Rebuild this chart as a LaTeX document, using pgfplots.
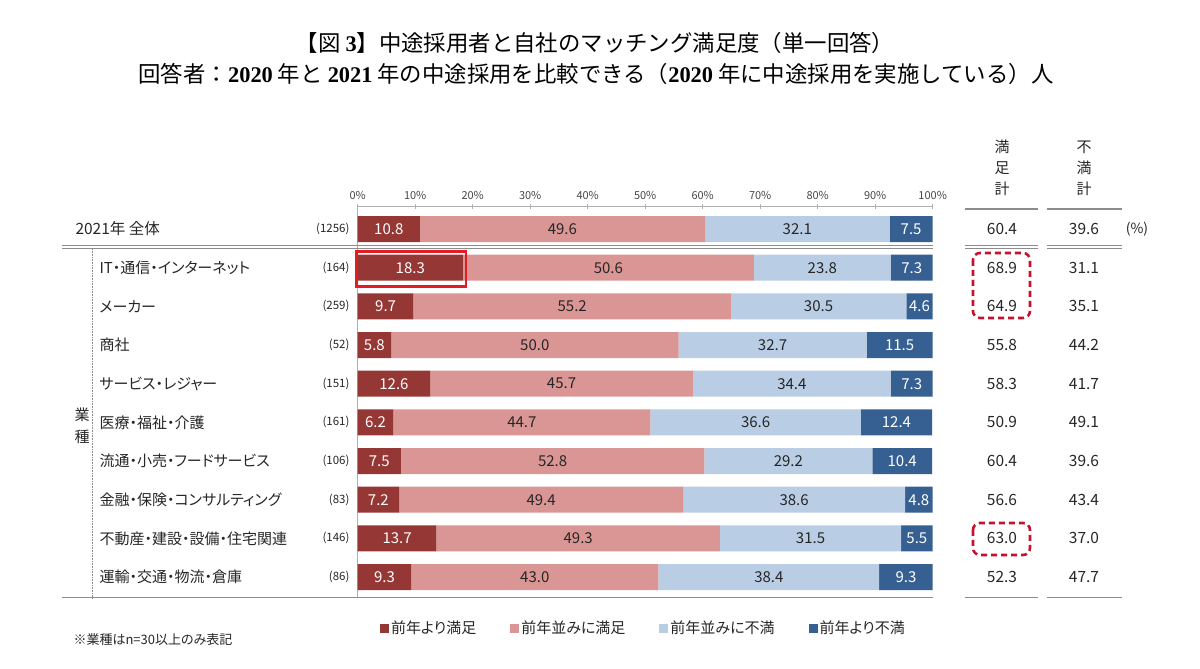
\documentclass[border=0pt]{standalone}
\usepackage{pgfplots}
\pgfplotsset{compat=1.18}
\usepackage{pgfplotstable}
\usepackage{fontspec}
\setmainfont{Noto Sans CJK JP}[RawFeature={+palt}]
\newfontfamily\titlefont{Noto Sans CJK JP}
\newfontfamily\numfont{Liberation Serif}
\definecolor{c1}{HTML}{953735}
\definecolor{c2}{HTML}{D99694}
\definecolor{c3}{HTML}{B9CDE5}
\definecolor{c4}{HTML}{376092}
\definecolor{txt}{HTML}{262626}
\definecolor{ln}{HTML}{8C8C8C}
\definecolor{boxred}{HTML}{E31B23}
\definecolor{dashred}{HTML}{C4122F}
\pgfplotstableread{
row a b c d
0 10.8 49.6 32.1 7.5
1 18.3 50.6 23.8 7.3
2 9.7 55.2 30.5 4.6
3 5.8 50.0 32.7 11.5
4 12.6 45.7 34.4 7.3
5 6.2 44.7 36.6 12.4
6 7.5 52.8 29.2 10.4
7 7.2 49.4 38.6 4.8
8 13.7 49.3 31.5 5.5
9 9.3 43.0 38.4 9.3
}\data
\begin{document}
\begin{tikzpicture}[x=1pt,y=1pt]
\useasboundingbox (0,0) rectangle (1200,669);
% titles
\node[font=\titlefont\fontsize{22.4}{24}\selectfont, text=black] at (595,626)
  {【図 {\numfont\bfseries 3}】中途採用者と自社のマッチング満足度（単一回答）};
\node[font=\titlefont\fontsize{22.4}{24}\selectfont, text=black] at (596,595)
  {回答者：{\numfont\bfseries 2020} 年と {\numfont\bfseries 2021} 年の中途採用を比較できる（{\numfont\bfseries 2020} 年に中途採用を実施している）人};

\begin{axis}[
  at={(357.7pt,462.3pt)}, anchor=north west,
  scale only axis, width=575pt, height=391.3pt,
  xmin=0, xmax=100, ymin=-0.577, ymax=9.543, y dir=reverse,
  xbar stacked, bar width=26pt,
  axis x line*=top, axis y line*=left,
  axis line style={draw=ln!70, line width=0.8pt, -},
  ytick=\empty,
  xtick={0,10,...,100},
  xticklabel={\pgfmathprintnumber{\tick}\%},
  /pgf/number format/assume math mode=true,
  xticklabel style={font=\fontsize{11}{12}\selectfont, text=txt!85, yshift=1pt},
  tick style={draw=ln!70, line width=0.8pt},
  tick align=center, major tick length=5pt,
  clip=false,
  nodes near coords={\pgfmathprintnumber[fixed,fixed zerofill,precision=1]{\rawx}},
  visualization depends on={rawx \as \rawx},
  every node near coord/.append style={anchor=center, font=\fontsize{15}{18}\selectfont, text=txt},
  legend columns=4,
  legend style={at={(0.497,-0.0767)}, anchor=center, draw=none, fill=none,
    font=\fontsize{15}{17}\selectfont, text=txt,
    /tikz/every even column/.append style={column sep=32pt}},
]
\addplot[fill=c1, draw=none, every node near coord/.append style={text=white},
  legend image code/.code={\fill[c1] (0pt,-4.5pt) rectangle (9pt,4.5pt);}] table[x=a,y=row]{\data};
\addlegendentry{前年より満足}
\addplot[fill=c2, draw=none,
  legend image code/.code={\fill[c2] (0pt,-4.5pt) rectangle (9pt,4.5pt);}] table[x=b,y=row]{\data};
\addlegendentry{前年並みに満足}
\addplot[fill=c3, draw=none,
  legend image code/.code={\fill[c3] (0pt,-4.5pt) rectangle (9pt,4.5pt);}] table[x=c,y=row]{\data};
\addlegendentry{前年並みに不満}
\addplot[fill=c4, draw=none, every node near coord/.append style={text=white},
  legend image code/.code={\fill[c4] (0pt,-4.5pt) rectangle (9pt,4.5pt);}] table[x=d,y=row]{\data};
\addlegendentry{前年より不満}
\end{axis}

% separator lines
\draw[ln, line width=1pt] (62,423) -- (932.7,423);
\draw[ln, line width=1pt] (62,420.6) -- (932.7,420.6);
\draw[ln, line width=1pt] (62,71) -- (932.7,71);
\draw[ln, line width=0.6pt, densely dotted] (92,420) -- (92,71);
\foreach \xa/\xb in {965/1038, 1047/1122}{
  \draw[ln, line width=1.2pt] (\xa,460) -- (\xb,460);
  \draw[ln, line width=1pt] (\xa,423) -- (\xb,423);
  \draw[ln, line width=1pt] (\xa,420.6) -- (\xb,420.6);
  \draw[ln, line width=1pt] (\xa,71) -- (\xb,71);
}
% headers right
\node[font=\fontsize{15}{21}\selectfont, text=txt, align=center] at (1002,501) {満\\足\\計};
\node[font=\fontsize{15}{21}\selectfont, text=txt, align=center] at (1084,501) {不\\満\\計};
\node[font=\fontsize{14}{16}\selectfont, text=txt] at (1137,440) {(\%)};
% row labels
\node[anchor=west, font=\fontsize{15.5}{18}\selectfont, text=txt] at (72,440) {2021年 全体};
\node[anchor=east, font=\fontsize{11.5}{14}\selectfont, text=txt] at (353,440) {(1256)};
\foreach \i/\lab/\n in {1/IT・通信・インターネット/164, 2/メーカー/259, 3/商社/52, 4/サービス・レジャー/151, 5/医療・福祉・介護/161, 6/流通・小売・フードサービス/106, 7/金融・保険・コンサルティング/83, 8/不動産・建設・設備・住宅関連/146, 9/運輸・交通・物流・倉庫/86}{
  \node[anchor=west, font=\fontsize{15}{18}\selectfont, text=txt] at (96,{440-38.67*\i}) {\lab};
  \node[anchor=east, font=\fontsize{11.5}{14}\selectfont, text=txt] at (353,{440-38.67*\i}) {(\n)};
}
\foreach \i/\s/\d in {0/60.4/39.6, 1/68.9/31.1, 2/64.9/35.1, 3/55.8/44.2, 4/58.3/41.7, 5/50.9/49.1, 6/60.4/39.6, 7/56.6/43.4, 8/63.0/37.0, 9/52.3/47.7}{
  \node[font=\fontsize{15.5}{18}\selectfont, text=txt] at (1002,{440-38.67*\i}) {\s};
  \node[font=\fontsize{15.5}{18}\selectfont, text=txt] at (1084,{440-38.67*\i}) {\d};
}
\node[font=\fontsize{15}{22}\selectfont, text=txt, align=center] at (82,243) {業\\種};
\node[anchor=west, font=\fontsize{13}{15}\selectfont, text=txt] at (70,29) {※業種はn=30以上のみ表記};
% highlight boxes
\draw[boxred, line width=2.2pt] (356.5,417.5) rectangle (466,382.5);
\draw[dashred, line width=2.6pt, dash pattern=on 6pt off 4pt, rounded corners=7pt] (973,416) rectangle (1030,351);
\draw[dashred, line width=2.6pt, dash pattern=on 6pt off 4pt, rounded corners=7pt] (973,146) rectangle (1030,114);
\end{tikzpicture}
\end{document}
